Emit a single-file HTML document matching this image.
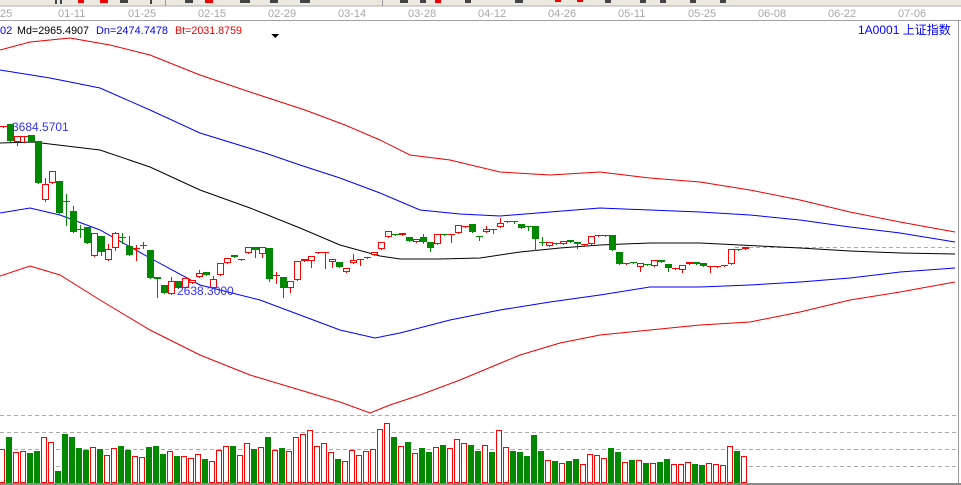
<!DOCTYPE html>
<html><head><meta charset="utf-8"><style>
html,body{margin:0;padding:0;background:#fff;width:961px;height:485px;overflow:hidden}
svg{display:block}
text{font-family:"Liberation Sans","Noto Sans CJK SC",sans-serif}
</style></head><body>
<svg id="s" width="961" height="485" xmlns="http://www.w3.org/2000/svg" shape-rendering="crispEdges">
<rect x="0" y="0" width="961" height="6" fill="#ece9e0"/>
<line x1="0" y1="6" x2="961" y2="6" fill="none" stroke="#b0b0b0"/>
<g fill="#444"><rect x="55" y="0" width="2" height="4"/><rect x="60" y="0" width="2" height="4"/><rect x="120" y="0" width="8" height="3"/><rect x="150" y="0" width="2" height="4"/><rect x="185" y="0" width="8" height="3"/><rect x="240" y="0" width="10" height="3"/><rect x="270" y="0" width="8" height="3"/><rect x="300" y="0" width="10" height="3"/><rect x="400" y="0" width="8" height="3"/><rect x="420" y="0" width="6" height="3"/><rect x="465" y="0" width="6" height="3"/><rect x="515" y="0" width="8" height="3"/><rect x="605" y="0" width="6" height="3"/><rect x="640" y="0" width="6" height="3"/><rect x="660" y="0" width="6" height="3"/><rect x="690" y="0" width="6" height="3"/><rect x="720" y="0" width="6" height="3"/></g>
<g fill="#e00"><rect x="78" y="0" width="6" height="3"/><rect x="100" y="0" width="8" height="3"/><rect x="205" y="0" width="8" height="3"/><rect x="435" y="0" width="6" height="3"/><rect x="555" y="0" width="6" height="2"/><rect x="577" y="0" width="6" height="2"/></g>
<line x1="165.5" y1="0" x2="165.5" y2="6" stroke="#999"/><line x1="382.5" y1="0" x2="382.5" y2="6" stroke="#999"/>
<line x1="0" y1="20.5" x2="961" y2="20.5" stroke="#a0a0a0"/>
<g fill="#a8a8a8" font-size="11">
<text x="0" y="17">25</text><text x="58" y="17">01-11</text><text x="128" y="17">01-25</text><text x="198" y="17">02-15</text><text x="268" y="17">02-29</text><text x="338" y="17">03-14</text><text x="408" y="17">03-28</text><text x="478" y="17">04-12</text><text x="548" y="17">04-26</text><text x="618" y="17">05-11</text><text x="688" y="17">05-25</text><text x="758" y="17">06-08</text><text x="828" y="17">06-22</text><text x="898" y="17">07-06</text>
</g>
<g font-size="11">
<text x="0" y="34" fill="#00f">02</text>
<text x="17" y="34" fill="#000" textLength="72" lengthAdjust="spacingAndGlyphs">Md=2965.4907</text>
<text x="96" y="34" fill="#00f" textLength="72" lengthAdjust="spacingAndGlyphs">Dn=2474.7478</text>
<text x="175" y="34" fill="#e00" textLength="67" lengthAdjust="spacingAndGlyphs">Bt=2031.8759</text>
<text x="858" y="34" fill="#00f" font-size="12">1A0001  上证指数</text>
</g>
<polygon points="271,34 279,34 275,38" fill="#000"/>
<line x1="958.5" y1="20" x2="958.5" y2="485" stroke="#999"/>
<g stroke="#aaa" stroke-dasharray="4,3"><line x1="0" y1="415.5" x2="958" y2="415.5"/><line x1="0" y1="432.5" x2="958" y2="432.5"/><line x1="0" y1="449.5" x2="958" y2="449.5"/><line x1="0" y1="466.5" x2="958" y2="466.5"/><line x1="735" y1="247.5" x2="955" y2="247.5"/></g>
<rect x="0" y="483" width="961" height="2" fill="#8a8a8a"/>
<g fill="none" stroke-width="1" shape-rendering="auto">
<polyline stroke="#e00" points="0,50 30,42 70,38 110,45 150,55 200,75 250,92 305,110 345,125 380,140 410,155 450,160 500,172 550,175 600,172 650,178 700,182 750,190 800,200 850,212 900,222 955,232"/>
<polyline stroke="#00f" points="0,70 50,78 100,88 150,110 200,133 265,153 300,165 340,178 380,193 420,210 460,214 500,216 550,212 600,208 650,210 700,212 750,215 800,220 850,227 900,233 955,242"/>
<polyline stroke="#000" points="0,143 33,142 100,150 150,167 200,190 250,208 300,228 340,245 380,256 400,259 440,259 480,258 520,252 560,248 600,245 650,243 700,243 760,246 800,248 850,251 900,253 955,254"/>
<polyline stroke="#00f" points="0,213 30,208 60,215 100,230 150,258 200,285 260,300 300,315 340,330 375,338 400,333 450,320 500,310 550,302 600,295 650,287 700,287 750,285 800,282 850,278 900,272 955,268"/>
<polyline stroke="#e00" points="0,276 30,266 60,275 100,300 150,330 200,355 250,375 300,390 340,402 370,413 390,405 420,395 460,380 520,355 560,343 600,335 650,330 700,325 750,322 800,312 850,300 900,292 955,282"/>
</g>
<g id="c"></g>
<text x="12" y="131" fill="#33f" font-size="12">3684.5701</text>
<text x="177" y="295" fill="#33f" font-size="12">2638.3000</text>
</svg>
<script>
var C=[["r",126,127],["g",124,141],["r",136,142,136,145],["r",136,137,136,142],["g",135,142],["g",141,183],["r",184,200,178,201],["r",171,183],["g",181,213],["g",201,202,194,225],["g",211,232,206,232],["g",229,230,225,237],["g",227,243],["r",233,256],["g",236,252,236,255],["r",249,260,244,260],["r",233,248,232,250],["g",237,238,233,243],["g",246,255,236,255],["r",248,249,245,260],["r",245,246,242,248],["g",250,278],["g",277,279,277,297],["g",285,293],["r",281,294,277,294],["g",281,288],["r",278,288],["r",280,283],["r",273,277,270,277],["g",272,275],["r",279,288,276,288],["r",263,275],["r",258,263],["g",255,257],["r",259,260],["r",247,253],["g",247,250,247,257],["r",247,254,247,257],["g",248,279,248,281],["r",275,276,272,283],["g",277,288,277,297],["r",281,288,281,292],["r",261,280],["r",259,261],["r",256,261,256,267],["r",252,253],["r",252,253,252,268],["r",259,262,259,267],["g",262,267],["r",268,272],["r",260,263,254,263],["r",259,260,259,265],["r",257,258],["r",252,255],["r",242,249],["r",231,237],["g",234,235],["r",233,235],["g",237,241],["r",239,242],["g",237,242,234,243],["g",242,248,242,251],["r",234,244],["g",234,235],["r",234,235,234,242],["r",225,233],["r",226,227],["g",224,232],["g",236,237,236,240],["r",229,232,226,232],["g",229,230,229,233],["r",223,227,218,227],["r",221,222],["g",221,222,221,223],["g",224,228],["g",226,227,226,230],["g",226,239,226,250],["g",242,243,237,245],["r",242,246],["g",243,244],["r",241,244],["g",240,242],["g",242,244,242,248],["r",244,245],["r",236,244],["r",235,236],["r",235,236],["g",235,250],["g",252,264],["r",263,264],["g",262,263],["r",263,267,263,271],["g",264,265],["r",260,266],["g",260,262],["g",264,268,264,271],["r",268,269],["r",265,270,265,272],["r",262,264],["g",262,264],["g",263,266],["r",266,267,266,272],["r",266,267],["r",265,266],["r",249,264],["g",249,250],["r",247,249]];
var V=[148,111,157,154,159,153,112,127,213,102,111,144,150,142,147,166,145,138,150,169,172,141,138,162,154,168,169,175,163,178,184,150,139,138,166,130,147,142,111,151,144,154,112,103,91,139,130,157,177,184,151,166,154,148,88,70,111,139,126,160,144,156,142,135,145,118,130,135,153,135,156,91,142,153,156,168,105,153,181,183,190,183,177,193,163,166,175,144,156,187,180,181,189,190,186,177,193,193,187,192,195,190,193,196,139,153,169];
var h="";
for(var i=0;i<C.length;i++){var d=C[i],x0=7*i,col=d[0]=="r"?"#f00":"#080";
var t=d[1],b=d[2],hi=d[3]||t,lo=d[4]||b;
h+='<rect x="'+(x0+3)+'" y="'+hi+'" width="1" height="'+(lo-hi+1)+'" fill="'+col+'"/>';
if(d[0]=="r"&&b-t>2)h+='<rect x="'+(x0+0.5)+'" y="'+(t+0.5)+'" width="6" height="'+(b-t-1)+'" fill="#fff" stroke="#f00"/>';
else h+='<rect x="'+x0+'" y="'+t+'" width="7" height="'+Math.max(b-t,1)+'" fill="'+col+'"/>';
var vt=Math.round(400+V[i]/3),vx=7*i-1;
if(d[0]=="r")h+='<rect x="'+(vx+0.5)+'" y="'+(vt+0.5)+'" width="5" height="'+(482-vt)+'" fill="#fff" stroke="#f00"/>';
else h+='<rect x="'+vx+'" y="'+vt+'" width="6" height="'+(483-vt)+'" fill="#080"/>';}
document.getElementById("c").innerHTML=h;
</script>
</body></html>
